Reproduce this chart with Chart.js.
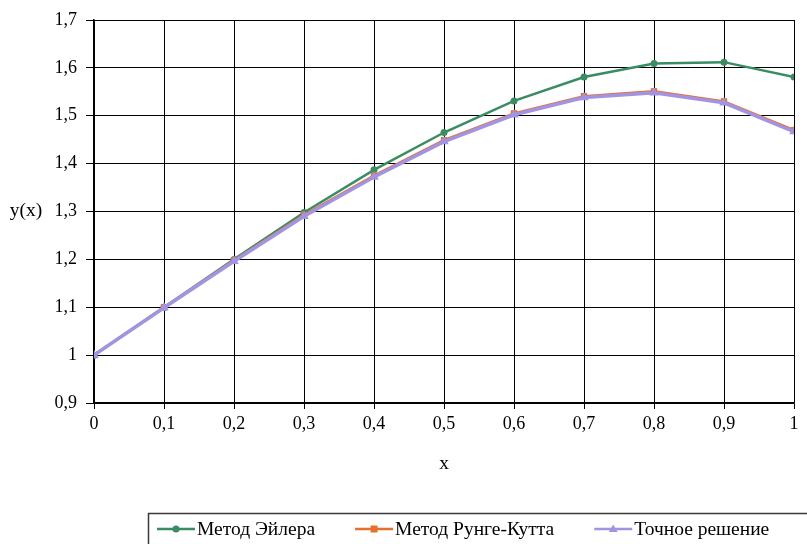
<!DOCTYPE html>
<html>
<head>
<meta charset="utf-8">
<script src="https://cdn.jsdelivr.net/npm/chart.js@4.4.1/dist/chart.umd.min.js"></script>
<style>
  html, body { margin: 0; padding: 0; background: #ffffff; }
  #wrap { width: 807px; height: 544px; }
</style>
</head>
<body>
<div id="wrap"><canvas id="c" width="807" height="544"></canvas></div>
<script>
const xValues = [0, 0.1, 0.2, 0.3, 0.4, 0.5, 0.6, 0.7, 0.8, 0.9, 1];
const eulerValues = [1, 1.1, 1.2, 1.298, 1.387, 1.465, 1.531, 1.581, 1.609, 1.612, 1.581];
const rungeKuttaValues = [1, 1.1, 1.198, 1.293, 1.375, 1.449, 1.505, 1.541, 1.551, 1.530, 1.470];
const exactValues = [1, 1.099, 1.196, 1.290, 1.372, 1.446, 1.502, 1.538, 1.548, 1.527, 1.467];
const seriesNames = ['Метод Эйлера', 'Метод Рунге-Кутта', 'Точное решение'];
const xTitle = 'x';
const yTitle = 'y(x)';

const SERIF = "'Liberation Serif'";
const GREEN = '#3a8c62';
const ORANGE = '#e4722e';
const PURPLE = '#a293e3';

function pts(vals) { return xValues.map((x, i) => ({ x: x, y: vals[i] })); }
function fmt(v) {
  const r = Math.round(v * 10) / 10;
  return String(r).replace('.', ',');
}

const datasets = [
  { label: seriesNames[0], data: pts(eulerValues), borderColor: GREEN, backgroundColor: GREEN,
    borderWidth: 2.5, pointStyle: 'circle', pointRadius: 3.5, pointBorderWidth: 0, order: 3 },
  { label: seriesNames[1], data: pts(rungeKuttaValues), borderColor: ORANGE, backgroundColor: ORANGE,
    borderWidth: 2.5, pointStyle: 'rect', pointRadius: 4.5, pointBorderWidth: 0, order: 2 },
  { label: seriesNames[2], data: pts(exactValues), borderColor: PURPLE, backgroundColor: PURPLE,
    borderWidth: 3.5, pointStyle: 'triangle', pointRadius: 5.5, pointBorderWidth: 0, order: 1 }
];

const extras = {
  id: 'extras',
  afterDraw(chart) {
    const ctx = chart.ctx;
    const area = chart.chartArea;
    ctx.save();
    ctx.fillStyle = '#000';
    ctx.textAlign = 'center';
    ctx.textBaseline = 'middle';
    ctx.font = '19.5px ' + SERIF;
    ctx.fillText(xTitle, (area.left + area.right) / 2, 464);
    ctx.fillText(yTitle, 26, 211);
    ctx.strokeStyle = '#3a3a3a';
    ctx.lineWidth = 1.5;
    ctx.strokeRect(148.5, 513.5, 720, 60);
    ctx.font = '19.5px ' + SERIF;
    ctx.textAlign = 'left';
    let x = 157;
    const y = 529;
    chart.data.datasets.forEach((ds) => {
      ctx.strokeStyle = ds.borderColor;
      ctx.lineWidth = 2.5;
      ctx.beginPath();
      ctx.moveTo(x, y);
      ctx.lineTo(x + 38, y);
      ctx.stroke();
      ctx.fillStyle = ds.backgroundColor;
      const cx = x + 19;
      ctx.beginPath();
      if (ds.pointStyle === 'circle') {
        ctx.arc(cx, y, 3.5, 0, Math.PI * 2);
      } else if (ds.pointStyle === 'rect') {
        ctx.rect(cx - 3.5, y - 3.5, 7, 7);
      } else {
        ctx.moveTo(cx, y - 4.5);
        ctx.lineTo(cx + 4.5, y + 3);
        ctx.lineTo(cx - 4.5, y + 3);
        ctx.closePath();
      }
      ctx.fill();
      ctx.fillStyle = '#000';
      ctx.fillText(ds.label, x + 40, y + 1);
      x += 40 + ctx.measureText(ds.label).width + 40;
    });
    ctx.restore();
  }
};

const chart = new Chart(document.getElementById('c'), {
  type: 'line',
  data: { datasets: datasets },
  options: {
    responsive: false,
    animation: false,
    devicePixelRatio: 1,
    layout: { padding: { left: 0, right: 13, top: 20, bottom: 0 } },
    plugins: { legend: { display: false }, tooltip: { enabled: false }, title: { display: false } },
    elements: { line: { tension: 0 } },
    scales: {
      x: {
        type: 'linear',
        min: 0, max: 1,
        ticks: { stepSize: 0.1, color: '#000', font: { family: SERIF, size: 18 }, padding: 4,
                 callback: (v) => fmt(v), maxRotation: 0, autoSkip: false },
        grid: { color: '#000', lineWidth: 1, tickLength: 6, tickColor: '#000' },
        border: { color: '#000', width: 1.5 },
        afterFit: (s) => { s.height = 141; }
      },
      y: {
        type: 'linear',
        min: 0.9, max: 1.7,
        ticks: { stepSize: 0.1, color: '#000', font: { family: SERIF, size: 18 }, padding: 9,
                 callback: (v) => fmt(v) },
        grid: { color: '#000', lineWidth: 1, tickLength: 8, tickColor: '#000' },
        border: { color: '#000', width: 1.5 },
        afterFit: (s) => { s.width = 94; }
      }
    }
  },
  plugins: [extras]
});
if (document.fonts && document.fonts.ready) document.fonts.ready.then(() => chart.update('none'));
</script>
</body>
</html>
